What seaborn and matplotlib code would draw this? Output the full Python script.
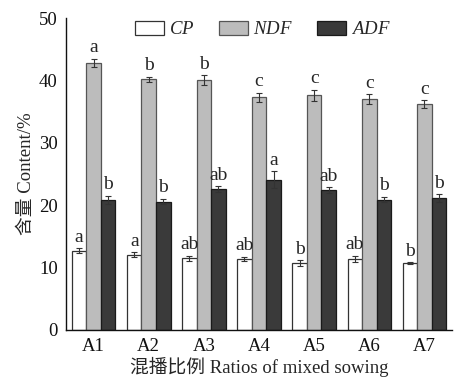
import matplotlib
matplotlib.use("Agg")
import matplotlib.pyplot as plt
import seaborn as sns
import pandas as pd
from matplotlib.ticker import MultipleLocator, FixedLocator

groups = ["A1", "A2", "A3", "A4", "A5", "A6", "A7"]
series = ["CP", "NDF", "ADF"]
cp = [12.7, 12.1, 11.5, 11.4, 10.7, 11.4, 10.7]
ndf = [42.8, 40.2, 40.1, 37.3, 37.6, 37.0, 36.2]
adf = [20.9, 20.6, 22.6, 24.1, 22.4, 20.9, 21.2]
cp_err = [0.4, 0.35, 0.4, 0.35, 0.45, 0.5, 0.15]
ndf_err = [0.7, 0.4, 0.75, 0.75, 0.95, 0.8, 0.6]
adf_err = [0.65, 0.45, 0.45, 1.35, 0.45, 0.45, 0.6]
cp_sig = ["a", "a", "ab", "ab", "b", "ab", "b"]
ndf_sig = ["a", "b", "b", "c", "c", "c", "c"]
adf_sig = ["b", "b", "ab", "a", "ab", "b", "b"]

vals = {"CP": cp, "NDF": ndf, "ADF": adf}
errs = {"CP": cp_err, "NDF": ndf_err, "ADF": adf_err}
sigs = {"CP": cp_sig, "NDF": ndf_sig, "ADF": adf_sig}

df = pd.DataFrame([
    {"group": g, "series": s, "value": vals[s][i]}
    for s in series for i, g in enumerate(groups)
])

sns.set_style("white")
plt.rcParams['font.family'] = ['Liberation Serif', 'Noto Sans CJK SC']
plt.rcParams['mathtext.fontset'] = 'custom'
plt.rcParams['mathtext.it'] = 'Liberation Serif:italic'
plt.rcParams['mathtext.rm'] = 'Liberation Serif'

fig = plt.figure(figsize=(4.54, 3.78), dpi=100)
ax = fig.add_axes([0.1454, 0.127, 0.8502, 0.825])

colors = {"CP": "#ffffff", "NDF": "#bcbcbc", "ADF": "#3a3a3a"}
edges = {"CP": "#333333", "NDF": "#555555", "ADF": "#1a1a1a"}

sns.barplot(data=df, x="group", y="value", hue="series", order=groups,
            hue_order=series, palette=colors, errorbar=None, width=0.79,
            saturation=1, ax=ax, legend=True)

for cont, s in zip(ax.containers, series):
    for i, bar in enumerate(cont):
        bar.set_edgecolor(edges[s])
        bar.set_linewidth(0.9)
        xc = bar.get_x() + bar.get_width() / 2
        h = bar.get_height()
        ax.errorbar(xc, h, yerr=errs[s][i], fmt="none", ecolor="#333333",
                    elinewidth=0.8, capsize=2.5, capthick=0.8, zorder=5)
        ax.text(xc, h + errs[s][i] + 0.4, sigs[s][i], ha="center", va="bottom",
                fontsize=14, family="Liberation Serif")

ax.set_ylim(0, 50)
ax.set_xlim(-0.5, 6.5)
ax.yaxis.set_major_locator(MultipleLocator(10))
ax.yaxis.set_minor_locator(MultipleLocator(5))
ax.xaxis.set_minor_locator(FixedLocator([0.5 + i for i in range(7)]))
ax.tick_params(axis="both", which="major", direction="in", length=4, width=0.9,
               labelsize=13.5, colors="#111111")
ax.tick_params(axis="both", which="minor", direction="in", length=2, width=0.9)
ax.tick_params(axis="x", which="major", pad=6)
ax.tick_params(axis="y", which="major", pad=6)
for sp in ["top", "right"]:
    ax.spines[sp].set_visible(False)
for sp in ["left", "bottom"]:
    ax.spines[sp].set_color("#111111")
    ax.spines[sp].set_linewidth(1.0)

ax.set_xlabel("混播比例 Ratios of mixed sowing", fontsize=13.5, labelpad=1,
              family=['Liberation Serif', 'Noto Sans CJK SC'])
ax.set_ylabel("含量 Content/%", fontsize=13.5, labelpad=3,
              family=['Liberation Serif', 'Noto Sans CJK SC'])

handles, labels = ax.get_legend_handles_labels()
leg = ax.legend(handles, ["$\\mathit{CP}$", "$\\mathit{NDF}$", "$\\mathit{ADF}$"],
                loc="upper center", bbox_to_anchor=(0.51, 1.045), ncol=3,
                frameon=False, fontsize=13.5, handlelength=1.55, handleheight=0.75,
                columnspacing=1.3, handletextpad=0.25)
for p, s in zip(leg.get_patches(), series):
    p.set_edgecolor(edges[s])
    p.set_linewidth(0.9)

fig.savefig("out.png", dpi=100)
